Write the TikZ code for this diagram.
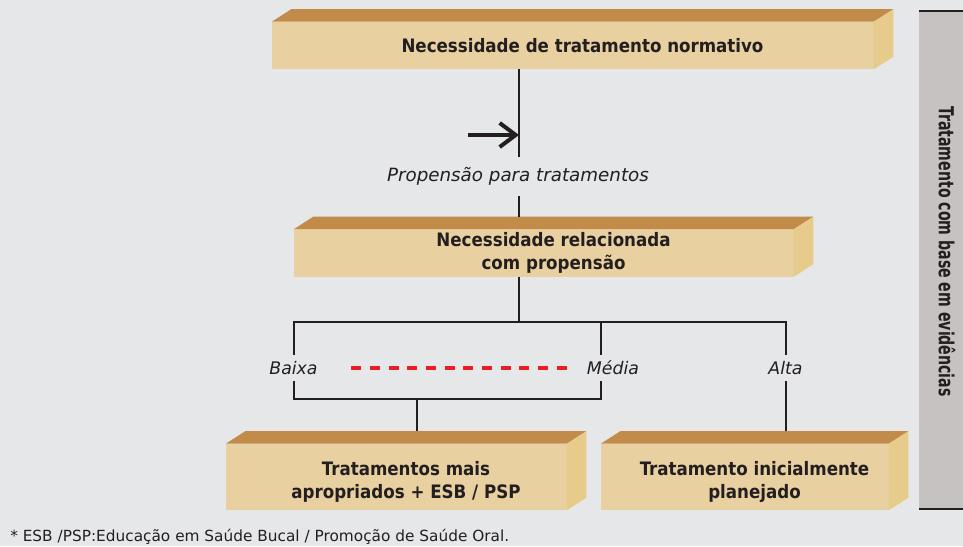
\documentclass[tikz,border=0pt]{standalone}
\usepackage{fontspec}
\setmainfont{DejaVu Sans}
\newfontfamily\condensada{DejaVu Sans Condensed}
\usetikzlibrary{arrows.meta,positioning,calc,backgrounds}

\definecolor{fundo}{HTML}{E6E7E8}
\definecolor{frente}{HTML}{E8D0A0}
\definecolor{topo}{HTML}{C28B4A}
\definecolor{lado}{HTML}{E6CB8B}
\definecolor{barra}{HTML}{C6C2C2}
\definecolor{traco}{HTML}{231F20}
\definecolor{vermelho}{HTML}{ED1C24}

\newcommand{\desce}{\rule{0pt}{18pt}}

\begin{document}
\begin{tikzpicture}[x=0.75pt, y=-0.75pt,
  caixa/.style 2 args={minimum width=#1*0.75pt, minimum height=#2*0.75pt, inner sep=0pt, align=center,
    font=\condensada\bfseries\fontsize{13.9}{17.5}\selectfont, text=traco},
  rotulo/.style={font=\itshape\fontsize{13}{15}\selectfont, text=traco, inner sep=0pt, minimum height=19.5pt},
  linha/.style={draw=traco, line width=1.5pt},
  tracejado/.style={draw=vermelho, line width=2.8pt, dash pattern=on 7.5pt off 6.5pt},
  seta/.style={draw=traco, line width=3pt, -{Straight Barb[length=12pt,width=18pt]}}]
  \def\dx{19.5}\def\dy{12.5}
  % caixas
  \node[caixa={621}{47}] (normativo) at (582.5,45.5) {Necessidade de tratamento normativo};
  \node[caixa={519}{47}] (propensao) at (553.5,253) {Necessidade relacionada\\com propensão};
  \node[caixa={360}{66}] (apropriados) at (406,477) {\desce Tratamentos mais\\apropriados + ESB / PSP};
  \node[caixa={307}{66}] (planejado) at (754.5,477) {\desce Tratamento inicialmente\\planejado};
  \begin{pgfonlayer}{background}
   \fill[fundo] (0,0) rectangle (963,546);
   \foreach \n in {normativo,propensao,apropriados,planejado} {
    \fill[frente] (\n.south west) rectangle ($(\n.north east)+(-\dx,0)$);
    \fill[topo] (\n.north west) -- ++(\dx,-\dy) -- ($(\n.north east)+(0,-\dy)$) -- ($(\n.north east)+(-\dx,0)$) -- cycle;
    \fill[lado] ($(\n.north east)+(-\dx,0)$) -- ($(\n.north east)+(0,-\dy)$) -- ($(\n.south east)+(0,-\dy)$) -- ($(\n.south east)+(-\dx,0)$) -- cycle;
   }
  \end{pgfonlayer}
  \useasboundingbox (0,0) rectangle (963,546);
  % barra lateral
  \fill[barra] (919,11) rectangle (963,509);
  \draw[traco, line width=1.1pt] (919,11) -- (963,11) (919,509) -- (963,509);
  \node[rotate=-90, font=\condensada\bfseries\fontsize{15.5}{17}\selectfont, text=traco] (evidencias) at (947,251.5) {\scalebox{0.76}[1]{Tratamento com base em evidências}};
  % rotulos
  \node[rotulo, minimum height=29.25pt, font=\itshape\fontsize{13.7}{15}\selectfont] (prop) at (518,176.5) {Propensão para tratamentos};
  \node[rotulo] (baixa) at (293.5,368) {Baixa};
  \node[rotulo] (media) at (613,368) {Média};
  \node[rotulo] (alta) at (785.5,368) {Alta};
  \coordinate (ramo) at (519,321.5);
  \coordinate (fecho) at (601,399);
  \coordinate (juncao) at (417,399);
  \coordinate (origem) at (468,135);
  % ligacoes
  \draw[linha] (normativo.south -| ramo) -- (prop.north -| ramo);
  \draw[linha] (prop.south -| ramo) -- ($(propensao.north -| ramo)+(0,-\dy)$);
  \draw[seta] (origem) -- (origem -| ramo);
  \draw[linha] (propensao.south -| ramo) -- (ramo);
  \draw[linha] (baixa.north) |- (alta.north |- ramo) -- (alta.north);
  \draw[linha] (fecho |- ramo) -- (fecho |- media.north);
  \draw[linha] (baixa.south) |- (fecho) -- (fecho |- media.south);
  \draw[linha] (juncao) -- ($(juncao |- apropriados.north)+(0,-\dy)$);
  \draw[linha] (alta.south) -- ($(alta.south |- planejado.north)+(0,-\dy)$);
  \draw[tracejado, shorten <=25pt, shorten >=14pt] (baixa) -- (media);
  % nota
  \node[anchor=west, inner sep=0pt, font=\fontsize{11.5}{13}\selectfont, text=traco] (nota) at (10,537) {* ESB /PSP:Educação em Saúde Bucal / Promoção de Saúde Oral.};
\end{tikzpicture}
\end{document}
